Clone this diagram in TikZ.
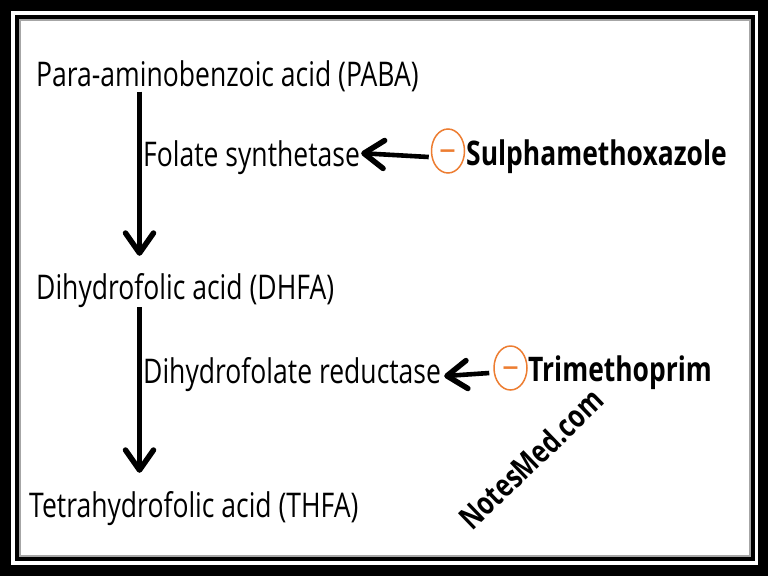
\documentclass[tikz,border=0pt]{standalone}
\usepackage{fontspec}
\setmainfont[FakeStretch=0.78]{Open Sans}
\usetikzlibrary{arrows.meta,shapes.geometric,calc}
\definecolor{inhib}{RGB}{237,125,49}
\tikzset{
  label/.style={anchor=base west, inner sep=0pt, font=\fontsize{34}{36}\selectfont},
  drug/.style={label, font=\fontsize{33.9}{36}\selectfont\bfseries},
  minus/.style={draw=inhib, line width=1.5pt, ellipse, minimum width=33pt, minimum height=44pt, inner sep=0pt, text=inhib, font=\fontsize{38}{38}\selectfont},
  step arrow/.style={-{Straight Barb[length=20pt,width=28pt,line width=5.5pt,round]}, line width=4.6pt, black}
}
\begin{document}
\begin{tikzpicture}[x=1pt, y=-1pt]
    \useasboundingbox (0, 0) rectangle (768, 576);
    \fill[black] (0, 0) rectangle (768, 576);
    \fill[white] (11, 11) rectangle (758, 565);
    \fill[black] (15, 15) rectangle (755, 561);
    \fill[gray!70] (19, 19) rectangle (751, 557);
    \fill[white] (21, 21) rectangle (749, 555);

    \node[label] (paba) at (36, 86) {Para-aminobenzoic acid (PABA)};
    \node[label] (folate) at (143, 166) {Folate synthetase};
    \node[drug] (sulpha) at (466, 165) {Sulphamethoxazole};
    \node[label] (dhfa) at (36, 299) {Dihydrofolic acid (DHFA)};
    \node[label] (reductase) at (143, 383) {Dihydrofolate reductase};
    \node[drug] (trimeth) at (528, 381) {Trimethoprim};
    \node[label] (thfa) at (29, 517) {Tetrahydrofolic acid (THFA)};
    \node[minus] (minusa) at (448, 151) {\smash{\raisebox{-13pt}{−}}};
    \node[minus] (minusb) at (510.5, 368) {\smash{\raisebox{-13pt}{−}}};
    \node[rotate=44, inner sep=0pt, font=\fontsize{31.6}{33}\selectfont\bfseries] (site) at (531, 459) {NotesMed.com};

    \coordinate (axis) at (139.5, 0);
    \draw[step arrow] (paba.south -| axis) -- ($(axis |- dhfa.north)+(0, -17)$);
    \draw[step arrow] (dhfa.south -| axis) -- ($(axis |- thfa.north)+(0, -18)$);
    \draw[step arrow] ($(minusa.west)+(-2, 6)$) -- ($(folate.east)+(1, -4)$);
    \draw[step arrow] ($(minusb.west)+(-4, 5)$) -- ($(reductase.east)+(3, 2)$);
\end{tikzpicture}
\end{document}
